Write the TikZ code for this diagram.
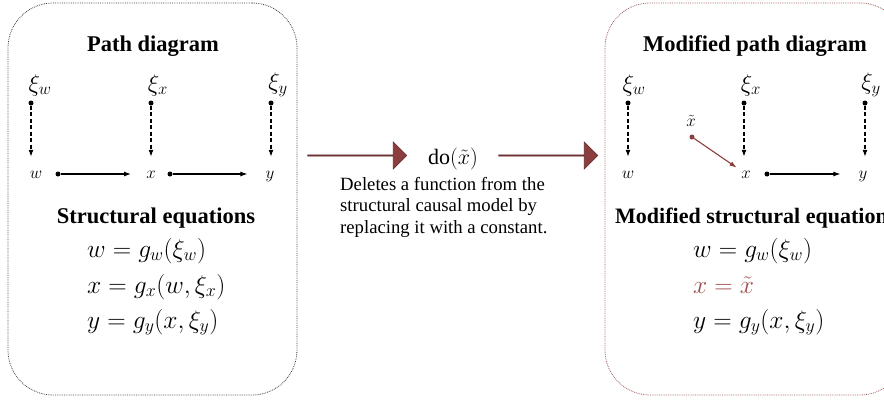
\documentclass[tikz,border=0pt]{standalone}
\usepackage{fix-cm}
\usepackage{fontspec}
\setmainfont{Liberation Serif}
\usetikzlibrary{arrows.meta,shapes.arrows}

\definecolor{brickred}{RGB}{140,62,62}
\definecolor{brickedge}{RGB}{96,40,40}
\definecolor{softred}{RGB}{160,76,76}

\tikzset{%
  every node/.style={
    inner sep=1pt
  },
  panel/.style={draw=#1, densely dotted, line width=0.8pt,
    rounded corners=45pt, minimum height=392pt},
  title/.style={font=\fontsize{22.5}{26}\selectfont\bfseries},
  noise/.style={font=\fontsize{24}{28}\selectfont},
  var/.style={font=\fontsize{17}{20}\selectfont, inner sep=2pt,
    text height=8pt, text depth=0pt, anchor=base},
  eqn/.style={font=\fontsize{25.5}{28}\selectfont, anchor=base west},
  dot/.style={circle, fill=#1, inner sep=0pt, minimum size=5pt},
  dot/.default=black,
  link/.style={line width=1.1pt, -{Latex[length=7pt,width=5pt]}},
  noiselink/.style={link, dash pattern=on 4pt off 2.5pt},
  bigarrow/.style={single arrow, draw=brickedge, fill=brickred,
    line width=0.6pt, inner sep=0pt, minimum width=27pt,
    single arrow head extend=7pt, minimum height=#1}
}

\begin{document}
\begin{tikzpicture}[x=1pt,y=-1pt]
  \useasboundingbox (0,0) rectangle (884,400);
  \clip (0,0) rectangle (884,400);

  % panels
  \node[panel=black!75, minimum width=289pt] (lpanel) at (152.5,199) {};
  \node[panel=brickred!85, minimum width=300pt] (rpanel) at (755,199) {};

  % left: path diagram
  \node[title, anchor=base] (ltitle) at (153,51) {Path diagram};
  \node[noise] (lxiw) at (40,85) {$\xi_w$};
  \node[noise] (lxix) at (158,85) {$\xi_x$};
  \node[noise] (lxiy) at (278,85) {$\xi_y$};
  \node[dot] (ldw) at (31,103) {};
  \node[dot] (ldx) at (151,103) {};
  \node[dot] (ldy) at (271,103) {};
  \node[var] (lw) at (36,178) {$w$};
  \node[var] (lx) at (151,178) {$x$};
  \node[var] (ly) at (270,178) {$y$};
  \node[dot] (lhw) at (58,174) {};
  \node[dot] (lhx) at (170,174) {};
  \draw[noiselink, shorten >=11pt] (ldw) -- (ldw |- lw.north);
  \draw[noiselink, shorten >=11pt] (ldx) -- (ldx |- lx.north);
  \draw[noiselink, shorten >=11pt] (ldy) -- (ldy |- ly.north);
  \draw[link, shorten >=13pt] (lhw) -- (lhw -| lx.west);
  \draw[link, shorten >=16pt] (lhx) -- (lhx -| ly.west);

  \node[title, anchor=base] (leqtitle) at (156,223) {Structural equations};
  \node[eqn] (leq1) at (86,257) {$w = g_w(\xi_w)$};
  \node[eqn] (leq2) at (86,293) {$x = g_x(w, \xi_x)$};
  \node[eqn] (leq3) at (86,328) {$y = g_y(x, \xi_y)$};

  % middle: intervention
  \node[bigarrow=99pt] (arrowin) at (357,155.5) {};
  \node[font=\fontsize{22}{26}\selectfont, anchor=base, inner sep=0pt]
    (doop) at (453,164) {do$(\tilde{x})$};
  \node[bigarrow=99pt] (arrowout) at (548,155.5) {};
  \node[font=\fontsize{18.7}{21.5}\selectfont, align=left, anchor=north west,
    inner sep=0pt] (explain) at (340,177)
    {Deletes a function from the\\structural causal model by\\replacing it with a constant.};

  % right: modified path diagram
  \node[title, anchor=base] (rtitle) at (755,51) {Modified path diagram};
  \node[noise] (rxiw) at (634,85) {$\xi_w$};
  \node[noise] (rxix) at (751,85) {$\xi_x$};
  \node[noise] (rxiy) at (871,85) {$\xi_y$};
  \node[dot] (rdw) at (628,103) {};
  \node[dot] (rdx) at (744,103) {};
  \node[dot] (rdy) at (865,103) {};
  \node[var] (rw) at (628,178) {$w$};
  \node[var] (rx) at (746,178) {$x$};
  \node[var] (ry) at (863,178) {$y$};
  \node[font=\fontsize{17}{20}\selectfont] (rxt) at (691,121) {$\tilde{x}$};
  \node[dot=brickred] (rdt) at (692,137) {};
  \node[dot] (rhx) at (767,174) {};
  \draw[noiselink, shorten >=11pt] (rdw) -- (rdw |- rw.north);
  \draw[noiselink, shorten >=11pt] (rdx) -- (rdx |- rx.north);
  \draw[noiselink, shorten >=11pt] (rdy) -- (rdy |- ry.north);
  \draw[link, draw=brickred, shorten >=3pt] (rdt) -- (rx);
  \draw[link, shorten >=16pt] (rhx) -- (rhx -| ry.west);

  \node[title, font=\fontsize{22}{26}\selectfont\bfseries, anchor=base west]
    (reqtitle) at (614,223) {Modified structural equations};
  \node[eqn] (req1) at (692,257) {$w = g_w(\xi_w)$};
  \node[eqn, text=softred] (req2) at (692,293) {$x = \tilde{x}$};
  \node[eqn] (req3) at (692,328) {$y = g_y(x, \xi_y)$};
\end{tikzpicture}
\end{document}
